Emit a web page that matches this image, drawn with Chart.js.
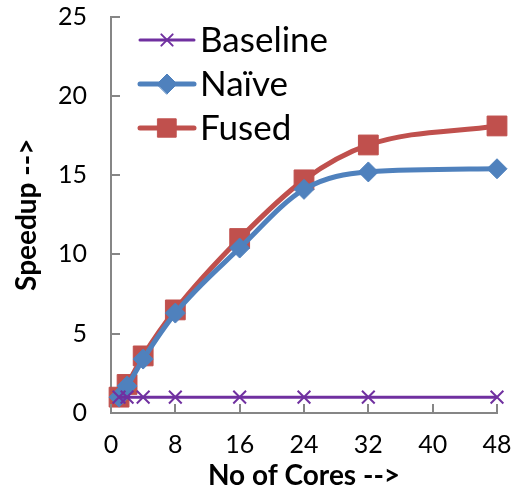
<!DOCTYPE html>
<html>
<head>
<meta charset="utf-8">
<script src="https://cdn.jsdelivr.net/npm/chart.js@4"></script>
<style>
  html, body { margin: 0; padding: 0; background: #fff; }
  #wrap { width: 512px; height: 495px; }
</style>
</head>
<body>
<div id="wrap"><canvas id="speedupChart"></canvas></div>
<script>
// Data
const cores = [1, 2, 4, 8, 16, 24, 32, 48];
const baseline = [1, 1, 1, 1, 1, 1, 1, 1];
const naive = [1.0, 1.7, 3.4, 6.3, 10.4, 14.1, 15.2, 15.4];
const fused = [1.0, 1.8, 3.6, 6.5, 11.0, 14.7, 16.9, 18.1];
const xTicks = [0, 8, 16, 24, 32, 40, 48];
const yTicks = [0, 5, 10, 15, 20, 25];

const FONT = "Lato, 'Open Sans', sans-serif";
const axisGray = '#868686';

const toPoints = ys => cores.map((c, i) => ({ x: c, y: ys[i] }));

const seriesList = [
    { label: 'Baseline', data: baseline, color: '#7030A0', style: 'crossRot', radius: 9, width: 3, markerBorder: 2 },
    { label: 'Naïve', data: naive, color: '#4F81BD', style: 'rectRot', radius: 10, width: 5, markerBorder: 1 },
    { label: 'Fused', data: fused, color: '#C0504D', style: 'rect', radius: 14, width: 5, markerBorder: 1 }
];

// Tick marks point inward, Excel style
const innerTicks = {
    id: 'innerTicks',
    afterDraw(chart) {
        const ctx = chart.ctx;
        const { x, y } = chart.scales;
        const area = chart.chartArea;
        ctx.save();
        ctx.strokeStyle = axisGray;
        ctx.lineWidth = 2;
        ctx.beginPath();
        xTicks.forEach(v => {
            const px = Math.round(x.getPixelForValue(v));
            ctx.moveTo(px, area.bottom);
            ctx.lineTo(px, area.bottom - 9);
        });
        yTicks.forEach(v => {
            const py = Math.round(y.getPixelForValue(v));
            ctx.moveTo(area.left, py);
            ctx.lineTo(area.left + 9, py);
        });
        ctx.stroke();
        ctx.restore();
    }
};

// Legend drawn inside the plot area (line + marker + label)
const insideLegend = {
    id: 'insideLegend',
    afterDraw(chart) {
        const ctx = chart.ctx;
        const left = chart.chartArea.left + 29;
        const rows = [40, 84, 128];
        ctx.save();
        seriesList.forEach((s, i) => {
            const y = rows[i];
            ctx.strokeStyle = s.color;
            ctx.lineWidth = s.width;
            ctx.lineCap = 'round';
            ctx.beginPath();
            ctx.moveTo(left, y);
            ctx.lineTo(left + 54, y);
            ctx.stroke();
            ctx.fillStyle = s.color;
            ctx.lineWidth = s.markerBorder;
            Chart.helpers.drawPoint(ctx, {
                pointStyle: s.style, radius: i === 0 ? 8 : s.radius - (i === 2 ? 1 : 0), rotation: 0, borderWidth: s.markerBorder
            }, left + 27, y);
            ctx.fillStyle = '#000';
            ctx.font = "35px " + FONT;
            ctx.textBaseline = 'middle';
            ctx.textAlign = 'left';
            ctx.fillText(s.label, left + 60, y + 1);
        });
        ctx.restore();
    }
};

new Chart(document.getElementById('speedupChart'), {
    type: 'line',
    data: {
        datasets: seriesList.map(s => ({
            label: s.label,
            data: toPoints(s.data),
            borderColor: s.color,
            backgroundColor: s.color,
            borderWidth: s.width,
            pointStyle: s.style,
            pointRadius: s.radius,
            pointBorderWidth: s.markerBorder,
            pointBorderColor: s.color,
            pointBackgroundColor: s.color,
            cubicInterpolationMode: 'monotone',
            fill: false,
            clip: false
        }))
    },
    options: {
        responsive: true,
        maintainAspectRatio: false,
        animation: false,
        layout: { padding: { top: 3, right: 0, left: 13, bottom: 3 } },
        plugins: {
            legend: { display: false },
            tooltip: { enabled: false }
        },
        scales: {
            x: {
                type: 'linear',
                min: 0,
                max: 48,
                afterBuildTicks: axis => { axis.ticks = xTicks.map(v => ({ value: v })); },
                afterFit: axis => { axis.paddingRight = 15; axis.height = 79; },
                grid: { display: false, drawTicks: true, tickLength: 16, tickColor: 'rgba(0,0,0,0)' },
                border: { color: axisGray, width: 2 },
                ticks: { color: '#000', font: { size: 25, family: FONT, lineHeight: 1 }, padding: 3, maxRotation: 0 },
                title: { display: true, text: 'No of Cores -->', color: '#000', font: { size: 28, weight: 'bold', family: FONT, lineHeight: 1 }, padding: { top: 3, bottom: 2 } }
            },
            y: {
                min: 0,
                max: 25,
                afterBuildTicks: axis => { axis.ticks = yTicks.map(v => ({ value: v })); },
                grid: { display: false, drawTicks: true, tickLength: 20, tickColor: 'rgba(0,0,0,0)' },
                border: { color: axisGray, width: 2 },
                ticks: { color: '#000', font: { size: 25, family: FONT, lineHeight: 1 }, padding: 4 },
                title: { display: true, text: 'Speedup -->', color: '#000', font: { size: 28, weight: 'bold', family: FONT, lineHeight: 1 }, padding: { top: 0, bottom: 13 } }
            }
        }
    },
    plugins: [innerTicks, insideLegend]
});
</script>
</body>
</html>
